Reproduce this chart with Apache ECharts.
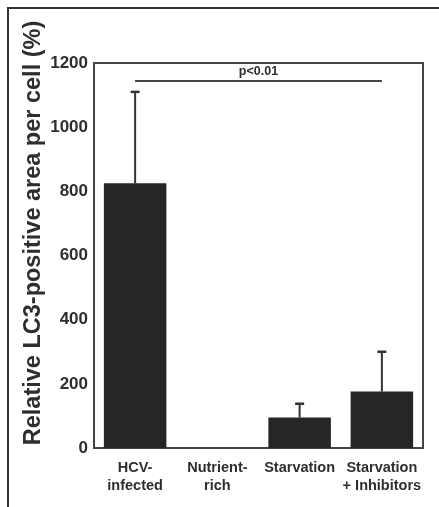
<!DOCTYPE html>
<html><head><meta charset="utf-8">
<script src="https://cdn.jsdelivr.net/npm/echarts@6/dist/echarts.min.js"></script>
<style>html,body{margin:0;padding:0;background:#fff;}#c{width:439px;height:507px;}</style>
</head><body><div id="c"></div>
<script>
const categories = ['HCV-\ninfected', 'Nutrient-\nrich', 'Starvation', 'Starvation\n+ Inhibitors'];
const means = [825, 0, 95, 176];
const errorTops = [1110, 0, 138, 300];
const yTicks = [0, 200, 400, 600, 800, 1000, 1200];
const sigLevel = 1145;
const sigLabel = 'p<0.01';
const yTitle = 'Relative LC3-positive area per cell (%)';

const ink = '#2e2e2e';
const chart = echarts.init(document.getElementById('c'));
chart.setOption({
  animation: false,
  backgroundColor: '#fff',
  grid: {left: 94, right: 16, top: 63, bottom: 59, show: true, borderColor: '#444', borderWidth: 2, backgroundColor: 'transparent'},
  xAxis: {
    type: 'category', data: categories,
    axisLine: {lineStyle: {color: '#444', width: 2}},
    axisTick: {show: false},
    axisLabel: {color: ink, fontFamily: 'Liberation Sans, Arial', fontWeight: 'bold', fontSize: 14.5, lineHeight: 18, margin: 11, interval: 0}
  },
  yAxis: {
    type: 'value', min: yTicks[0], max: yTicks[yTicks.length - 1], interval: 200,
    axisLine: {show: true, lineStyle: {color: '#444', width: 2}},
    axisTick: {show: false},
    splitLine: {show: false},
    axisLabel: {color: ink, fontFamily: 'Liberation Sans, Arial', fontWeight: 'bold', fontSize: 17, margin: 6,
      formatter: v => String(v)}
  },
  graphic: [
    {type: 'rect', shape: {x: 8, y: 8, width: 460, height: 520}, style: {fill: 'none', stroke: '#333', lineWidth: 2}, z: 0},
    {type: 'text', x: 34, y: 233, rotation: Math.PI / 2,
     style: {text: yTitle, fill: ink, font: 'bold 23.5px "Liberation Sans", Arial', align: 'center', verticalAlign: 'middle'}}
  ],
  series: [
    {
      type: 'bar', data: means, barWidth: '76%',
      itemStyle: {color: '#262626'},
      markLine: {
        symbol: 'none', silent: true,
        lineStyle: {color: '#444', width: 2, type: 'solid'},
        label: {show: true, position: 'middle', formatter: sigLabel, color: ink, fontFamily: 'Liberation Sans, Arial', fontWeight: 'bold', fontSize: 12.5, distance: 3},
        data: [[{coord: [categories[0], sigLevel]}, {coord: [categories[3], sigLevel]}]]
      }
    },
    {
      type: 'custom',
      data: means.map((m, i) => [i, m, errorTops[i]]),
      renderItem: function (params, api) {
        if (api.value(2) <= api.value(1)) return null;
        const base = api.coord([api.value(0), api.value(1)]);
        const top = api.coord([api.value(0), api.value(2)]);
        const hw = 4.5;
        return {type: 'group', children: [
          {type: 'line', shape: {x1: base[0], y1: base[1], x2: top[0], y2: top[1]}, style: {stroke: '#333', lineWidth: 2}},
          {type: 'line', shape: {x1: top[0] - hw, y1: top[1], x2: top[0] + hw, y2: top[1]}, style: {stroke: '#333', lineWidth: 2.5}}
        ]};
      },
      z: 3
    }
  ]
});
</script></body></html>
